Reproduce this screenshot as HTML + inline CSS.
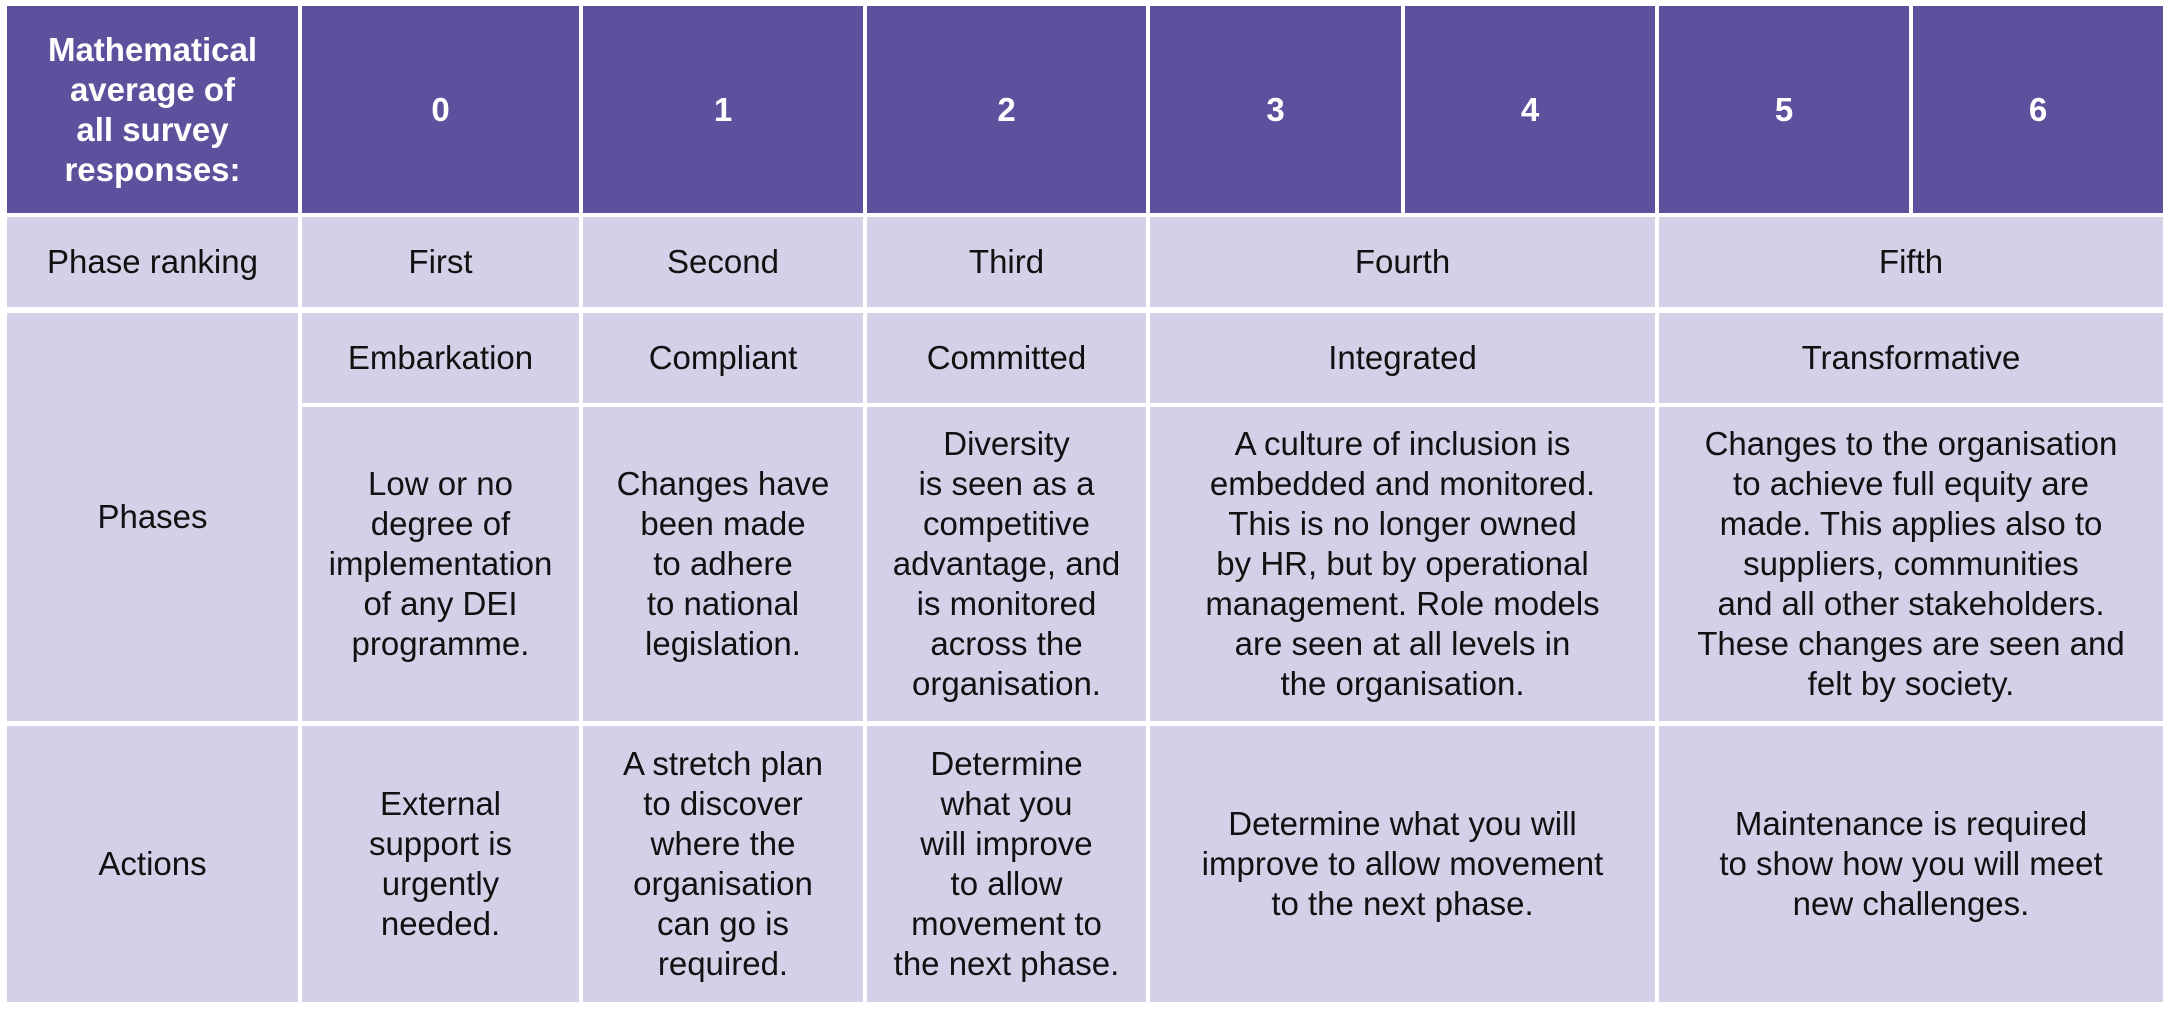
<!DOCTYPE html>
<html><head><meta charset="utf-8"><style>
body{margin:0;width:2171px;height:1012px;background:#fff;position:relative;overflow:hidden;font-family:"Liberation Sans",sans-serif;}
.c{position:absolute;display:flex;align-items:center;justify-content:center;text-align:center;background:#d5d0e8;color:#111;font-size:33px;line-height:40px;white-space:nowrap;}
.h{background:#5e509c;color:#fff;font-weight:bold;font-size:33px;}
</style></head><body>
<div class="c h" style="left:7px;top:6px;width:291px;height:207px;">Mathematical<br>average of<br>all survey<br>responses:</div>
<div class="c h" style="left:302px;top:6px;width:277px;height:207px;">0</div>
<div class="c h" style="left:583px;top:6px;width:280px;height:207px;">1</div>
<div class="c h" style="left:867px;top:6px;width:279px;height:207px;">2</div>
<div class="c h" style="left:1150px;top:6px;width:251px;height:207px;">3</div>
<div class="c h" style="left:1405px;top:6px;width:250px;height:207px;">4</div>
<div class="c h" style="left:1659px;top:6px;width:250px;height:207px;">5</div>
<div class="c h" style="left:1913px;top:6px;width:250px;height:207px;">6</div>
<div class="c" style="left:7px;top:217px;width:291px;height:90px;">Phase ranking</div>
<div class="c" style="left:302px;top:217px;width:277px;height:90px;">First</div>
<div class="c" style="left:583px;top:217px;width:280px;height:90px;">Second</div>
<div class="c" style="left:867px;top:217px;width:279px;height:90px;">Third</div>
<div class="c" style="left:1150px;top:217px;width:505px;height:90px;">Fourth</div>
<div class="c" style="left:1659px;top:217px;width:504px;height:90px;">Fifth</div>
<div class="c" style="left:7px;top:313px;width:291px;height:408px;">Phases</div>
<div class="c" style="left:302px;top:313px;width:277px;height:90px;">Embarkation</div>
<div class="c" style="left:583px;top:313px;width:280px;height:90px;">Compliant</div>
<div class="c" style="left:867px;top:313px;width:279px;height:90px;">Committed</div>
<div class="c" style="left:1150px;top:313px;width:505px;height:90px;">Integrated</div>
<div class="c" style="left:1659px;top:313px;width:504px;height:90px;">Transformative</div>
<div class="c" style="left:302px;top:407px;width:277px;height:314px;">Low or no<br>degree of<br>implementation<br>of any DEI<br>programme.</div>
<div class="c" style="left:583px;top:407px;width:280px;height:314px;">Changes have<br>been made<br>to adhere<br>to national<br>legislation.</div>
<div class="c" style="left:867px;top:407px;width:279px;height:314px;">Diversity<br>is seen as a<br>competitive<br>advantage, and<br>is monitored<br>across the<br>organisation.</div>
<div class="c" style="left:1150px;top:407px;width:505px;height:314px;">A culture of inclusion is<br>embedded and monitored.<br>This is no longer owned<br>by HR, but by operational<br>management. Role models<br>are seen at all levels in<br>the organisation.</div>
<div class="c" style="left:1659px;top:407px;width:504px;height:314px;">Changes to the organisation<br>to achieve full equity are<br>made. This applies also to<br>suppliers, communities<br>and all other stakeholders.<br>These changes are seen and<br>felt by society.</div>
<div class="c" style="left:7px;top:726px;width:291px;height:276px;">Actions</div>
<div class="c" style="left:302px;top:726px;width:277px;height:276px;">External<br>support is<br>urgently<br>needed.</div>
<div class="c" style="left:583px;top:726px;width:280px;height:276px;">A stretch plan<br>to discover<br>where the<br>organisation<br>can go is<br>required.</div>
<div class="c" style="left:867px;top:726px;width:279px;height:276px;">Determine<br>what you<br>will improve<br>to allow<br>movement to<br>the next phase.</div>
<div class="c" style="left:1150px;top:726px;width:505px;height:276px;">Determine what you will<br>improve to allow movement<br>to the next phase.</div>
<div class="c" style="left:1659px;top:726px;width:504px;height:276px;">Maintenance is required<br>to show how you will meet<br>new challenges.</div>
</body></html>
